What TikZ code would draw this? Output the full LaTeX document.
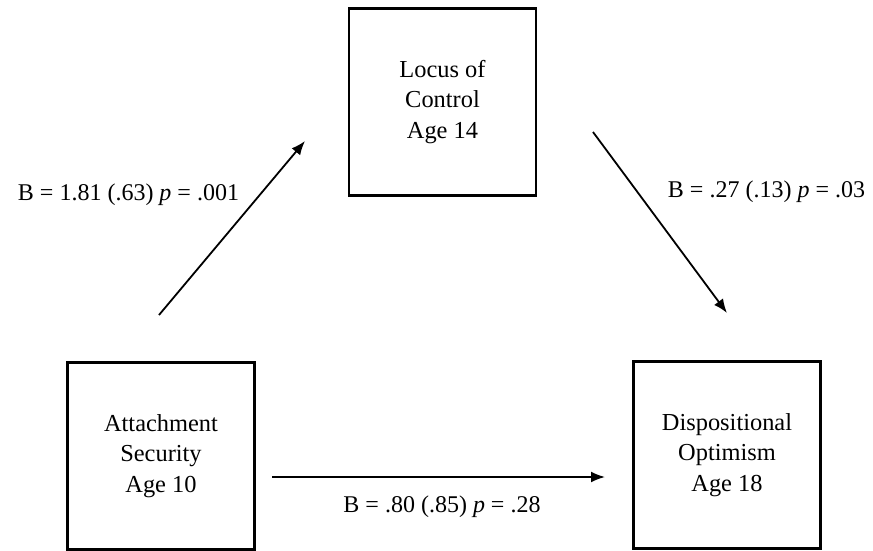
\documentclass[tikz,border=0pt]{standalone}
\usepackage{fontspec}
\setmainfont{Liberation Serif}
\usetikzlibrary{arrows.meta,positioning,calc}

\begin{document}
\begin{tikzpicture}[x=0.5pt, y=-0.5pt,
		var/.style={draw, line width=1.2pt, minimum width=93.5pt, minimum height=93.5pt, inner sep=0pt, align=center, font=\fontsize{12.2}{15.3}\selectfont},
		eff/.style={line width=0.9pt, -{Latex[length=7pt,width=5.5pt]}},
		coef/.style={inner sep=0pt, font=\fontsize{12}{15}\selectfont}]
		\useasboundingbox (0,0) rectangle (873,551);
		
		\node[var]	(locus)		at	(442.5,102)	{Locus of\\Control\\Age 14};
		\node[var]	(attach)	at	(161,456)	{Attachment\\Security\\Age 10};
		\node[var]	(optim)		at	(727,455)	{Dispositional\\Optimism\\Age 18};
		
		\coordinate	(aup)		at	(159,315);
		\coordinate	(aupend)	at	(305,141);
		\coordinate	(adown)		at	(593,132);
		\coordinate	(adownend)	at	(727,313);
		\coordinate	(adir)		at	(272,477);
		\coordinate	(adirend)	at	(605,477);
		\draw[eff] (aup)	-- (aupend);
		\draw[eff] (adown)	-- (adownend);
		\draw[eff] (adir)	-- (adirend);
		
		\node[coef]	(pathA)		at	(128.5,195)	{B = 1.81 (.63) \textit{p} = .001};
		\node[coef]	(pathB)		at	(766.5,192)	{B = .27 (.13) \textit{p} = .03};
		\node[coef]	(pathC)		at	(442,507)	{B = .80 (.85) \textit{p} = .28};
	\end{tikzpicture}
\end{document}
